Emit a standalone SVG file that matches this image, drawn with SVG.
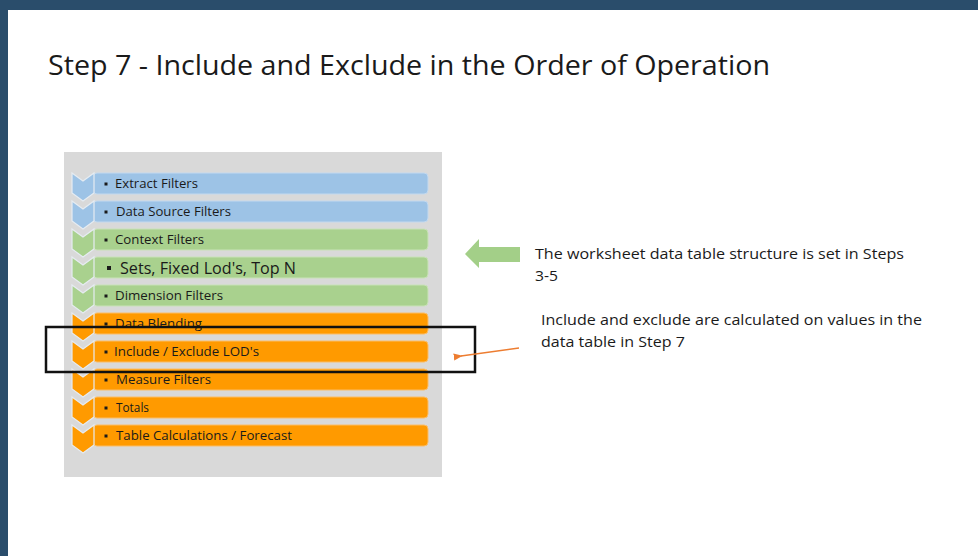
<svg xmlns="http://www.w3.org/2000/svg" width="978" height="556" viewBox="0 0 978 556">
<defs>
<style>
.t{font-family:"Open Sans","Liberation Sans",sans-serif;fill:#1a1a1a}
.row{font-size:12px}
.note{font-size:14px}
.blue{fill:#9dc3e6;stroke:#c3d9ef;stroke-width:1}
.green{fill:#a9d18e;stroke:#c9e2b8;stroke-width:1}
.orange{fill:#ff9a00;stroke:#fbbd66;stroke-width:1}
.chev{stroke:#e6ecf2;stroke-width:1.2}
.dot{fill:#1a1a1a}
</style>
<path id="chev" d="M0,0 L11,8 L22,0 L22,20 L11,28 L0,20 Z"/>
<marker id="oh" viewBox="0 0 10 10" refX="2" refY="5" markerWidth="7" markerHeight="7" orient="auto-start-reverse">
<path d="M0,5 L10,1 L10,9 Z" fill="#ed7d31"/>
</marker>
</defs>
<rect width="978" height="556" fill="#ffffff"/>
<rect x="0" y="0" width="978" height="10" fill="#2a4d6b"/>
<rect x="0" y="0" width="8" height="556" fill="#2a4d6b"/>
<text class="t" x="48" y="75" font-size="28" textLength="722" lengthAdjust="spacingAndGlyphs">Step 7 - Include and Exclude in the Order of Operation</text>
<rect x="64" y="152" width="378" height="325" fill="#d9d9d9"/>
<g id="row1"><rect class="blue" x="93" y="173" width="335" height="21" rx="4"/><use href="#chev" x="72" y="173" class="blue chev"/><rect class="dot" x="104.5" y="182.5" width="3" height="3"/><text class="t row" x="115" y="188" textLength="83" lengthAdjust="spacingAndGlyphs">Extract Filters</text></g>
<g id="row2"><rect class="blue" x="93" y="201" width="335" height="21" rx="4"/><use href="#chev" x="72" y="201" class="blue chev"/><rect class="dot" x="104.5" y="210.5" width="3" height="3"/><text class="t row" x="116" y="216" textLength="115" lengthAdjust="spacingAndGlyphs">Data Source Filters</text></g>
<g id="row3"><rect class="green" x="93" y="229" width="335" height="21" rx="4"/><use href="#chev" x="72" y="229" class="green chev"/><rect class="dot" x="104.5" y="238.5" width="3" height="3"/><text class="t row" x="115" y="244" textLength="89" lengthAdjust="spacingAndGlyphs">Context Filters</text></g>
<g id="row4"><rect class="green" x="93" y="257" width="335" height="21" rx="4"/><use href="#chev" x="72" y="257" class="green chev"/><rect class="dot" x="107" y="266" width="4" height="4"/><text class="t" font-size="16" x="120" y="274" textLength="176" lengthAdjust="spacingAndGlyphs">Sets, Fixed Lod's, Top N</text></g>
<g id="row5"><rect class="green" x="93" y="285" width="335" height="21" rx="4"/><use href="#chev" x="72" y="285" class="green chev"/><rect class="dot" x="104.5" y="294.5" width="3" height="3"/><text class="t row" x="115" y="300" textLength="108" lengthAdjust="spacingAndGlyphs">Dimension Filters</text></g>
<g id="row6"><rect class="orange" x="93" y="313" width="335" height="21" rx="4"/><use href="#chev" x="72" y="313" class="orange chev"/><rect class="dot" x="104.5" y="322.5" width="3" height="3"/><text class="t row" x="115" y="328" textLength="87" lengthAdjust="spacingAndGlyphs">Data Blending</text></g>
<g id="row7"><rect class="orange" x="93" y="341" width="335" height="21" rx="4"/><use href="#chev" x="72" y="341" class="orange chev"/><rect class="dot" x="104.5" y="350.5" width="3" height="3"/><text class="t row" x="114" y="356" textLength="145" lengthAdjust="spacingAndGlyphs">Include / Exclude LOD's</text></g>
<g id="row8"><rect class="orange" x="93" y="369" width="335" height="21" rx="4"/><use href="#chev" x="72" y="369" class="orange chev"/><rect class="dot" x="104.5" y="378.5" width="3" height="3"/><text class="t row" x="116" y="384" textLength="95" lengthAdjust="spacingAndGlyphs">Measure Filters</text></g>
<g id="row9"><rect class="orange" x="93" y="397" width="335" height="21" rx="4"/><use href="#chev" x="72" y="397" class="orange chev"/><rect class="dot" x="104.5" y="406.5" width="3" height="3"/><text class="t row" x="116" y="412" textLength="33" lengthAdjust="spacingAndGlyphs">Totals</text></g>
<g id="row10"><rect class="orange" x="93" y="425" width="335" height="21" rx="4"/><use href="#chev" x="72" y="425" class="orange chev"/><rect class="dot" x="104.5" y="434.5" width="3" height="3"/><text class="t row" x="116" y="440" textLength="176" lengthAdjust="spacingAndGlyphs">Table Calculations / Forecast</text></g>
<rect id="highlight" x="46" y="327" width="429" height="45" fill="none" stroke="#111111" stroke-width="2.5"/>
<g id="connectors">
<path d="M465,254 L479,239 L479,247 L520,247 L520,262 L479,262 L479,268 Z" fill="#a3cf88"/>
<line x1="519" y1="348" x2="461" y2="356" stroke="#ed7d31" stroke-width="1.3" marker-end="url(#oh)"/>
</g>
<g id="note1"><text class="t note" x="535" y="259" textLength="369" lengthAdjust="spacingAndGlyphs">The worksheet data table structure is set in Steps</text><text class="t note" x="535" y="281" textLength="23" lengthAdjust="spacingAndGlyphs">3-5</text></g>
<g id="note2"><text class="t note" x="541" y="325" textLength="381" lengthAdjust="spacingAndGlyphs">Include and exclude are calculated on values in the</text><text class="t note" x="541" y="347" textLength="144" lengthAdjust="spacingAndGlyphs">data table in Step 7</text></g>
</svg>
